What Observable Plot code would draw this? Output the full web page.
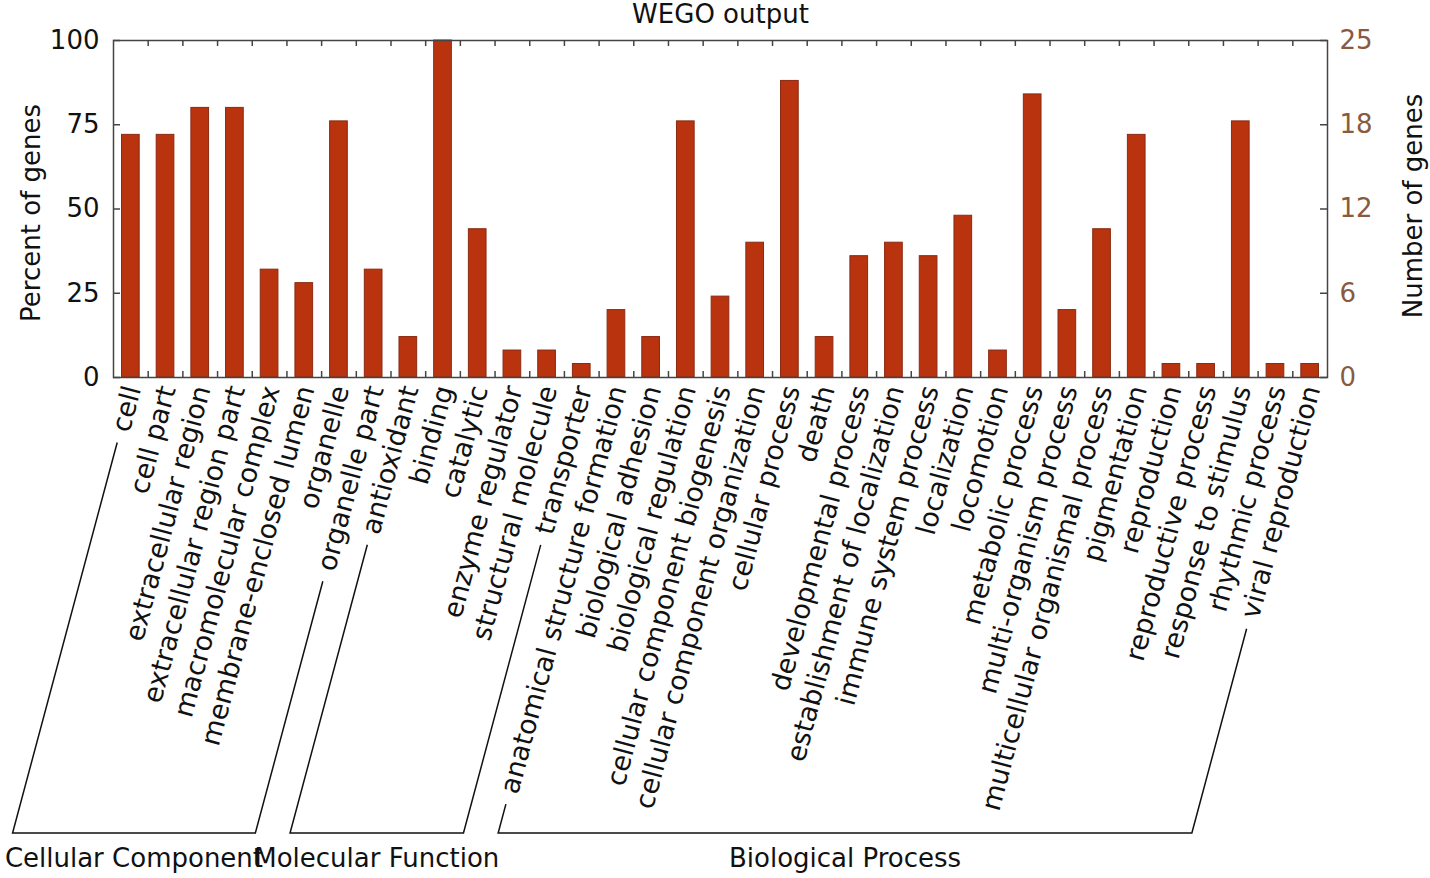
<!DOCTYPE html>
<html>
<head>
<meta charset="utf-8">
<script src="https://cdn.jsdelivr.net/npm/d3@7"></script>
<script src="https://cdn.jsdelivr.net/npm/@observablehq/plot@0.6"></script>
<style>
  html, body { margin: 0; padding: 0; background: #fff; }
  svg { display: block; }
</style>
</head>
<body>
<div id="chart"></div>
<script>
const categories = [
  "cell", "cell part", "extracellular region", "extracellular region part",
  "macromolecular complex", "membrane-enclosed lumen", "organelle", "organelle part",
  "antioxidant", "binding", "catalytic", "enzyme regulator", "structural molecule", "transporter",
  "anatomical structure formation", "biological adhesion", "biological regulation",
  "cellular component biogenesis", "cellular component organization", "cellular process",
  "death", "developmental process", "establishment of localization", "immune system process",
  "localization", "locomotion", "metabolic process", "multi-organism process",
  "multicellular organismal process", "pigmentation", "reproduction", "reproductive process",
  "response to stimulus", "rhythmic process", "viral reproduction"
];
const percents = [72, 72, 80, 80, 32, 28, 76, 32, 12, 100, 44, 8, 8, 4, 20, 12, 76, 24, 40, 88,
  12, 36, 40, 36, 48, 8, 84, 20, 44, 72, 4, 4, 76, 4, 4];
const groups = ["Cellular Component", "Molecular Function", "Biological Process"];
const groupFirst = ["cell", "antioxidant", "anatomical structure formation"];
const groupLast = ["organelle part", "transporter", "viral reproduction"];
const leftTicks = [0, 25, 50, 75, 100];
const rightTickLabels = ["0", "6", "12", "18", "25"];

const data = categories.map((c, i) => ({category: c, percent: percents[i]}));

const W = 1430, H = 878;
const mL = 113, mR = 103, mT = 40, mB = 501;
const plotW = W - mL - mR, plotH = H - mT - mB;
const step = plotW / categories.length;
const FONT = "DejaVu Sans";
const FS = 26;
const LFS = 27;
const ANGLE = -75;

const plot = Plot.plot({
  width: W, height: H,
  marginLeft: mL, marginRight: mR, marginTop: mT, marginBottom: mB,
  style: {fontFamily: FONT, fontSize: FS + "px", background: "#fff"},
  x: {type: "band", domain: categories, padding: 0, round: false, axis: null},
  y: {domain: [0, 100], axis: null},
  marks: [
    Plot.barY(data, {x: "category", y: "percent", fill: "#b8330e", stroke: "#8b2a14", strokeWidth: 1, insetLeft: 8.5, insetRight: 8.5}),
    Plot.frame({stroke: "#444", strokeWidth: 1.5}),
    Plot.tickX(categories.slice(0, -1), {x: d => d, dx: step / 2, stroke: "#444", strokeWidth: 1.5, insetTop: plotH - 6}),
    Plot.tickX(categories.slice(0, -1), {x: d => d, dx: step / 2, stroke: "#444", strokeWidth: 1.5, insetBottom: plotH - 6}),
    Plot.tickY(leftTicks, {y: d => d, stroke: "#444", strokeWidth: 1.5, insetRight: plotW - 7}),
    Plot.tickY(leftTicks, {y: d => d, stroke: "#444", strokeWidth: 1.5, insetLeft: plotW - 7}),
    Plot.axisY(leftTicks, {anchor: "left", label: null, tickSize: 0, tickPadding: 14, fontSize: FS, fill: "#111"}),
    Plot.axisY(leftTicks, {anchor: "right", label: null, tickSize: 0, tickPadding: 12, fontSize: FS, fill: "#8a5a40",
      tickFormat: d => rightTickLabels[leftTicks.indexOf(d)]}),
    Plot.text(categories, {x: d => d, y: 0, dy: 9, dx: 2, rotate: ANGLE, textAnchor: "end", lineAnchor: "middle", fontSize: LFS, fill: "#111"}),
    Plot.text(["WEGO output"], {frameAnchor: "top", dy: -26, lineAnchor: "middle", textAnchor: "middle", fontSize: FS, fill: "#111"}),
    Plot.text(["Percent of genes"], {frameAnchor: "left", dx: -82, dy: 4, rotate: -90, textAnchor: "middle", lineAnchor: "middle", fontSize: FS, fill: "#111"}),
    Plot.text(["Number of genes"], {frameAnchor: "right", dx: 86, dy: -3, rotate: -90, textAnchor: "middle", lineAnchor: "middle", fontSize: FS, fill: "#111"})
  ]
});

document.getElementById("chart").appendChild(plot);

// brackets grouping the categories, built from the x scale and measured label lengths
const xs = plot.scale("x");
const bw = xs.bandwidth || 0;
function xPos(c) {
  if (typeof xs.apply === "function") return xs.apply(c) + bw / 2;
  const i = xs.domain.indexOf(c);
  return xs.range[0] + xs.step * (i + 0.5);
}
const svg = d3.select(plot);
const ctx = document.createElement("canvas").getContext("2d");
ctx.font = LFS + "px '" + FONT + "'";
const rad = ANGLE * Math.PI / 180;
const ux = Math.cos(rad), uy = Math.sin(rad);
const anchorY = H - mB + 9;
const baseY = 833;
const gap = 12;
function slantStart(c) {
  const L = ctx.measureText(c).width;
  const ax = xPos(c) + 2, ay = anchorY;
  const sx = ax - L * ux + gap * (-ux), sy = ay - L * uy + gap * (-uy);
  const ex = sx - (baseY - sy) * (ux / -uy);
  return {sx, sy, ex};
}
const gLayer = svg.append("g").attr("fill", "none").attr("stroke", "#111").attr("stroke-width", 1.5);
groups.forEach((g, k) => {
  const a = slantStart(groupFirst[k]);
  const b = slantStart(groupLast[k]);
  gLayer.append("path").attr("d", `M${a.sx},${a.sy}L${a.ex},${baseY}L${b.ex},${baseY}L${b.sx},${b.sy}`);
  svg.append("text")
    .attr("x", (a.ex + b.ex) / 2).attr("y", baseY + 34)
    .attr("text-anchor", "middle")
    .attr("font-family", FONT).attr("font-size", FS).attr("fill", "#111")
    .text(g);
});
</script>
</body>
</html>
